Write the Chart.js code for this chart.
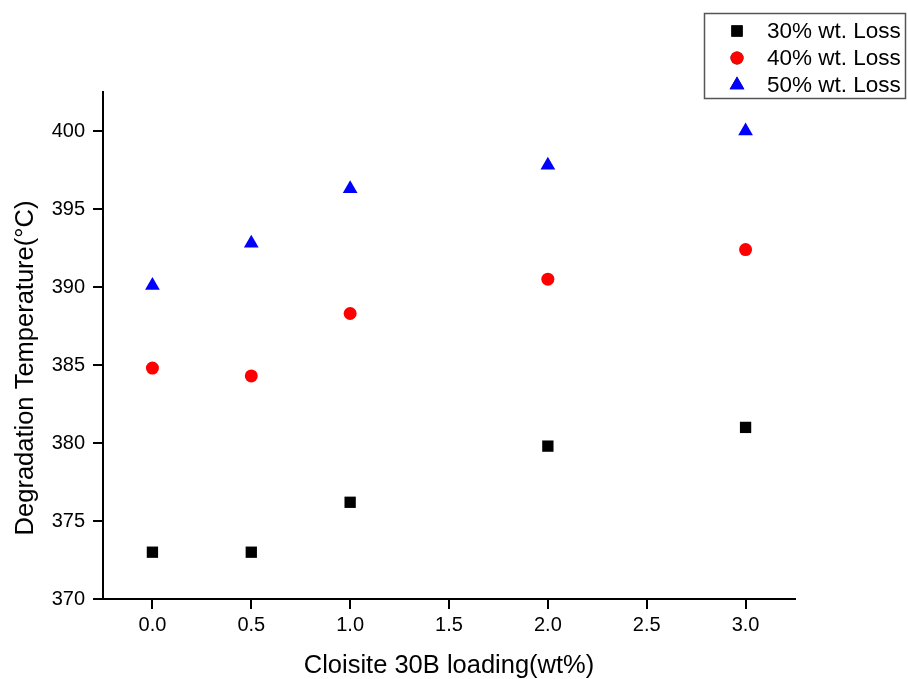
<!DOCTYPE html>
<html>
<head>
<meta charset="utf-8">
<script src="https://cdn.jsdelivr.net/npm/chart.js@4/dist/chart.umd.min.js"></script>
<style>
  html, body { margin: 0; padding: 0; background: #fff; }
  #wrap { width: 908px; height: 679px; }
</style>
</head>
<body>
<div id="wrap"><canvas id="myChart" width="908" height="679"></canvas></div>
<script>
// clay loading (wt%)
const loading = [0, 0.5, 1, 2, 3];

// degradation temperature (°C) at each weight loss
const loss30 = [373.0, 373.0, 376.2, 379.8, 381.0];
const loss40 = [384.8, 384.3, 388.3, 390.5, 392.4];
const loss50 = [390.1, 392.8, 396.3, 397.8, 400.0];

const seriesLabels = ['30% wt. Loss', '40% wt. Loss', '50% wt. Loss'];

const xTicks = [0, 0.5, 1, 1.5, 2, 2.5, 3];
const yTicks = [370, 375, 380, 385, 390, 395, 400];

const xTitle = 'Cloisite 30B loading(wt%)';
const yTitle = 'Degradation Temperature(°C)';

const FONT = '"Liberation Sans", Arial, sans-serif';

function pts(ys) {
    return loading.map((x, i) => ({x: x, y: ys[i]}));
}

// boxed legend top right + axis titles
const extras = {
    id: 'extras',
    afterDraw(chart) {
        const ctx = chart.ctx;
        const ca = chart.chartArea;
        ctx.save();

        // legend box
        ctx.strokeStyle = '#555';
        ctx.lineWidth = 1.5;
        ctx.strokeRect(704.5, 13.5, 201, 85);
        ctx.font = '22.5px ' + FONT;
        ctx.fillStyle = '#000';
        ctx.textBaseline = 'middle';
        ctx.textAlign = 'left';
        const rows = [31, 58, 85];
        chart.data.datasets.forEach((ds, i) => {
            Chart.helpers.drawPoint(ctx, {
                pointStyle: ds.pointStyle,
                radius: ds.pointRadius,
                borderWidth: 0
            }, 737, rows[i]);
            ctx.fillStyle = ds.backgroundColor;
            ctx.fill();
            ctx.fillStyle = '#000';
            ctx.fillText(ds.label, 767, rows[i] + 1);
        });

        // axis titles
        ctx.font = '25.5px ' + FONT;
        ctx.textAlign = 'center';
        ctx.textBaseline = 'alphabetic';
        ctx.fillText(xTitle, (ca.left + ca.right) / 2, 673);
        ctx.translate(33, 368);
        ctx.rotate(-Math.PI / 2);
        ctx.fillText(yTitle, 0, 0);
        ctx.restore();
    }
};

const axisGrid = {
    drawOnChartArea: false,
    drawTicks: true,
    tickLength: 10,
    color: '#000',
    lineWidth: 2
};

const options = {
    type: 'scatter',
    data: {
        datasets: [
            {label: seriesLabels[0], data: pts(loss30), pointStyle: 'rect', pointRadius: 8, backgroundColor: '#000000', borderWidth: 0},
            {label: seriesLabels[1], data: pts(loss40), pointStyle: 'circle', pointRadius: 6.5, backgroundColor: '#ff0000', borderWidth: 0},
            {label: seriesLabels[2], data: pts(loss50), pointStyle: 'triangle', pointRadius: 8.5, backgroundColor: '#0000ff', borderWidth: 0}
        ]
    },
    options: {
        responsive: false,
        animation: false,
        layout: {padding: {top: 92, right: 113, left: 0, bottom: 0}},
        plugins: {
            legend: {display: false},
            tooltip: {enabled: false}
        },
        scales: {
            x: {
                type: 'linear',
                min: -0.25,
                max: 3.25,
                grid: axisGrid,
                border: {color: '#000', width: 2},
                afterBuildTicks(scale) { scale.ticks = xTicks.map(v => ({value: v})); },
                ticks: {
                    padding: 4,
                    color: '#000',
                    font: {family: FONT, size: 20},
                    callback: v => v.toFixed(1)
                },
                afterFit(scale) { scale.height = 80; }
            },
            y: {
                min: 370,
                max: 402.5,
                grid: axisGrid,
                border: {color: '#000', width: 2},
                afterBuildTicks(scale) { scale.ticks = yTicks.map(v => ({value: v})); },
                ticks: {
                    padding: 8,
                    color: '#000',
                    font: {family: FONT, size: 20},
                    callback: v => String(v)
                },
                afterFit(scale) { scale.width = 103; }
            }
        }
    },
    plugins: [extras]
};

const ctx = document.getElementById('myChart').getContext('2d');
const chart = new Chart(ctx, options);
</script>
</body>
</html>
